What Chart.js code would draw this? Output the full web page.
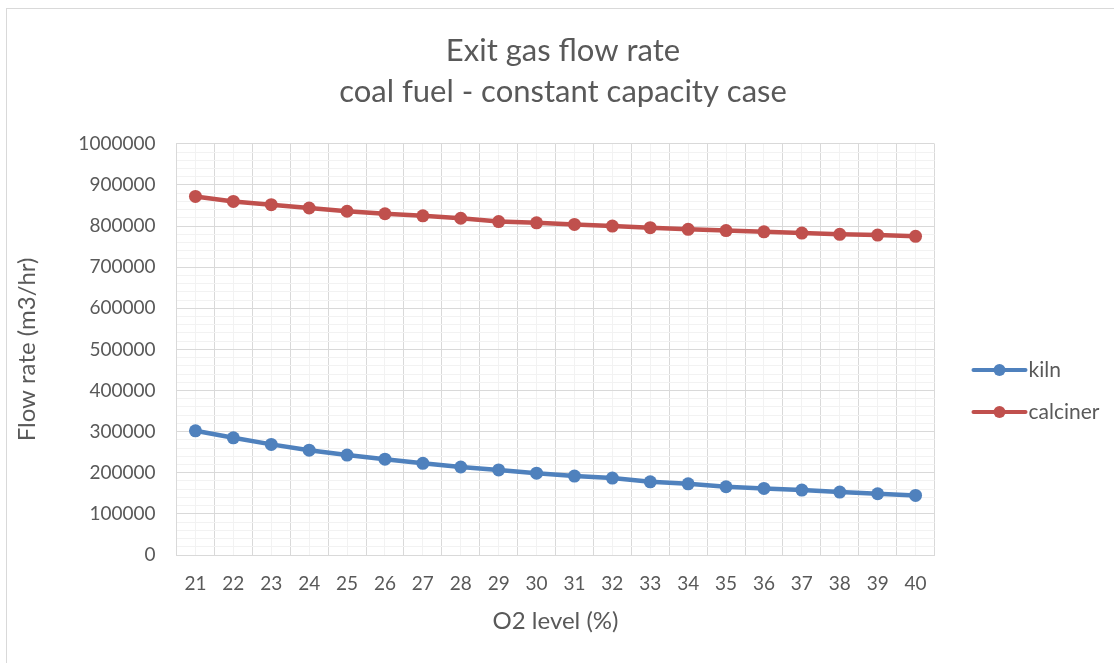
<!DOCTYPE html>
<html>
<head>
<meta charset="utf-8">
<script src="https://cdn.jsdelivr.net/npm/chart.js@4/dist/chart.umd.min.js"></script>
<style>
  html, body { margin: 0; padding: 0; background: #fff; }
  #wrap { position: relative; width: 1114px; height: 663px; }
</style>
</head>
<body>
<div id="wrap"><canvas id="flowChart" width="1114" height="663"></canvas></div>
<script>
// O2 level categories (%)
const o2Levels = ['21','22','23','24','25','26','27','28','29','30','31','32','33','34','35','36','37','38','39','40'];

// exit gas flow rate, m3/hr
const kilnFlow = [302000, 285000, 269000, 255000, 243000, 233000, 223000, 214000, 207000, 199000,
                  192000, 187000, 178000, 173000, 166000, 162000, 158000, 153000, 149000, 145000];
const calcinerFlow = [872000, 860000, 852000, 844000, 836000, 830000, 825000, 819000, 811000, 808000,
                      804000, 800000, 796000, 792000, 789000, 786000, 783000, 780000, 778000, 775000];

const seriesNames = ['kiln', 'calciner'];
const seriesColors = ['#4f81bd', '#c0504d'];

const txt = '#595959';
const fontFam = 'Lato, "Open Sans", sans-serif';

// outer frame around the whole chart
const framePlugin = {
  id: 'frame',
  beforeDraw(chart) {
    const c = chart.ctx;
    c.save();
    c.fillStyle = '#fff';
    c.fillRect(0, 0, chart.width, chart.height);
    c.strokeStyle = '#d9d9d9';
    c.lineWidth = 1;
    c.strokeRect(6.5, 8.5, chart.width + 20, chart.height + 20);
    c.restore();
  }
};

// legend: short line with a marker, label to the right
const sideLegend = {
  id: 'sideLegend',
  afterDraw(chart) {
    const c = chart.ctx;
    const area = chart.chartArea;
    const x0 = area.right + 39;
    const rows = [370, 412];
    c.save();
    chart.data.datasets.forEach((ds, i) => {
      const y = rows[i];
      c.strokeStyle = ds.borderColor;
      c.lineWidth = 4;
      c.lineCap = 'round';
      c.beginPath();
      c.moveTo(x0, y);
      c.lineTo(x0 + 52, y);
      c.stroke();
      c.fillStyle = ds.borderColor;
      c.beginPath();
      c.arc(x0 + 26, y, 6, 0, Math.PI * 2);
      c.fill();
      c.fillStyle = txt;
      c.font = '21px ' + fontFam;
      c.textBaseline = 'middle';
      c.fillText(ds.label, x0 + 55, y);
    });
    c.restore();
  }
};

const ctx = document.getElementById('flowChart').getContext('2d');

new Chart(ctx, {
  type: 'line',
  data: {
    labels: o2Levels,
    datasets: [
      {
        label: seriesNames[0],
        data: kilnFlow,
        borderColor: seriesColors[0],
        backgroundColor: seriesColors[0],
        borderWidth: 4.5,
        pointRadius: 6.5,
        pointHoverRadius: 6.5,
        pointBorderWidth: 0,
        tension: 0,
        xAxisID: 'x',
        yAxisID: 'y'
      },
      {
        label: seriesNames[1],
        data: calcinerFlow,
        borderColor: seriesColors[1],
        backgroundColor: seriesColors[1],
        borderWidth: 4.5,
        pointRadius: 6.5,
        pointHoverRadius: 6.5,
        pointBorderWidth: 0,
        tension: 0,
        xAxisID: 'x',
        yAxisID: 'y'
      }
    ]
  },
  options: {
    responsive: false,
    animation: false,
    layout: { padding: { left: 12, right: 0, top: 0, bottom: 0 } },
    scales: {
      x: {
        type: 'category',
        offset: true,
        grid: { offset: true, color: '#d9d9d9', drawTicks: false },
        border: { color: '#d9d9d9' },
        ticks: { color: txt, font: { family: fontFam, size: 19 }, padding: 17, maxRotation: 0, autoSkip: false },
        title: { display: true, text: 'O2 level (%)', color: txt, font: { family: fontFam, size: 24 }, padding: { top: 0, bottom: 27 } },
        afterFit(scale) { scale.height = 108; }
      },
      xMinor: {
        type: 'category',
        position: 'bottom',
        offset: true,
        z: -1,
        grid: { offset: false, color: '#f2f2f2', drawTicks: false },
        border: { display: false },
        ticks: { display: false },
        afterFit(scale) { scale.height = 0; }
      },
      y: {
        min: 0,
        max: 1000000,
        grid: { color: '#d9d9d9', drawTicks: false },
        border: { color: '#d9d9d9' },
        ticks: {
          stepSize: 100000,
          color: txt,
          font: { family: fontFam, size: 19 },
          padding: 21,
          callback: (v) => String(v)
        },
        title: { display: true, text: 'Flow rate (m3/hr)', color: txt, font: { family: fontFam, size: 24 }, padding: { top: 1, bottom: 0 } },
        afterFit(scale) { scale.width = 164.5; }
      },
      yMinor: {
        position: 'left',
        min: 0,
        max: 1000000,
        z: -1,
        grid: {
          drawTicks: false,
          color: (c) => (c.tick && c.tick.value % 100000 === 0) ? 'rgba(0,0,0,0)' : '#f2f2f2'
        },
        border: { display: false },
        ticks: { display: false, stepSize: 20000 },
        afterFit(scale) { scale.width = 0; }
      },
      // empty strip on the right that holds the legend
      legendSpace: {
        position: 'right',
        grid: { display: false },
        border: { display: false },
        ticks: { display: false },
        afterFit(scale) { scale.width = 179.5; }
      }
    },
    plugins: {
      legend: { display: false },
      tooltip: { enabled: false },
      title: {
        display: true,
        text: ['Exit gas flow rate', 'coal fuel - constant capacity case'],
        color: txt,
        font: { family: fontFam, size: 31, weight: 'normal', lineHeight: 1.32 },
        padding: { top: 31, bottom: 31 }
      }
    }
  },
  plugins: [framePlugin, sideLegend]
});
</script>
</body>
</html>
